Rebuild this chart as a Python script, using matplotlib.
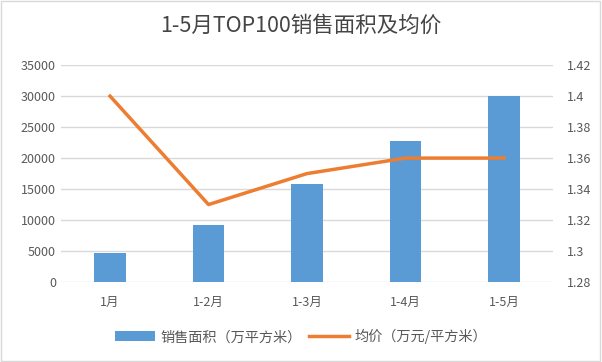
import numpy as np
import matplotlib.pyplot as plt
from matplotlib.patches import Rectangle

plt.rcParams['font.family'] = ['Noto Sans CJK SC', 'DejaVu Sans']

months = ['1月', '1-2月', '1-3月', '1-4月', '1-5月']
area = [4700, 9250, 15850, 22750, 30000]
price = [1.40, 1.33, 1.35, 1.36, 1.36]

blue = '#5B9BD5'
orange = '#ED7D31'
grey = '#595959'

fig = plt.figure(figsize=(6.02, 3.62), dpi=100)
ax1 = fig.add_axes([0.101, 0.221, 0.818, 0.599])
x = np.arange(len(months))
bars = ax1.bar(x, area, width=0.32, color=blue, label='销售面积（万平方米）', zorder=2)
ax1.set_ylim(0, 35000)
ax1.set_yticks(np.arange(0, 35001, 5000))
ax1.set_xlim(-0.5, len(months) - 0.5)
ax1.set_xticks(x)
ax1.set_xticklabels(months)
ax1.yaxis.grid(True, color='#D9D9D9', linewidth=1, zorder=0)
ax1.set_axisbelow(True)
for s in ax1.spines.values():
    s.set_visible(False)
ax1.tick_params(length=0, colors=grey, labelsize=9)
ax1.tick_params(axis='x', pad=10)

ax2 = ax1.twinx()
line, = ax2.plot(x, price, color=orange, linewidth=2.5, label='均价（万元/平方米）')
ax2.set_ylim(1.28, 1.42)
ax2.set_yticks(np.arange(1.28, 1.4201, 0.02))
ax2.set_yticklabels(['%g' % round(v, 2) for v in np.arange(1.28, 1.4201, 0.02)])
for s in ax2.spines.values():
    s.set_visible(False)
ax2.tick_params(length=0, colors=grey, labelsize=9, pad=10)

fig.suptitle('1-5月TOP100销售面积及均价', y=0.96, fontsize=15.5, color='#454545')
fig.legend([bars, line], ['销售面积（万平方米）', '均价（万元/平方米）'],
           loc='center', bbox_to_anchor=(0.5, 0.07), ncol=2, frameon=False,
           fontsize=10.2, labelcolor=grey, handlelength=2.8, columnspacing=0.5,
           handletextpad=0.4)

fig.patches.append(Rectangle((0.002, 0.003), 0.995, 0.994, transform=fig.transFigure,
                             fill=False, edgecolor='#D9D9D9', linewidth=1))
fig.savefig('out.png', dpi=100)
